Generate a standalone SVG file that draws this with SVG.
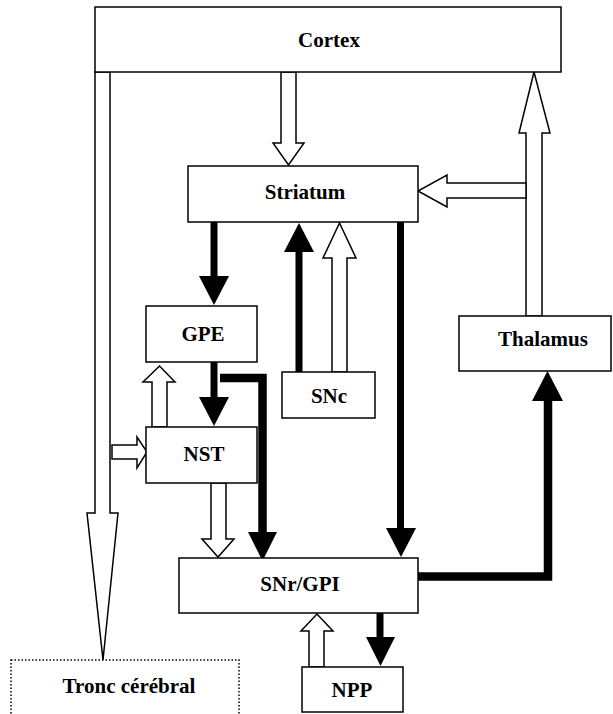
<svg xmlns="http://www.w3.org/2000/svg" width="613" height="714" viewBox="0 0 613 714">
  <style>
    .box { fill: #fff; stroke: #000; stroke-width: 1.5; }
    .dotted { fill: #fff; stroke: #000; stroke-width: 1.5; stroke-dasharray: 1.5 2; }
    .lbl { font-family: "Liberation Serif", "Times New Roman", serif; font-weight: bold; font-size: 21px; fill: #000; text-anchor: middle; }
    .hollow { fill: #fff; stroke: #000; stroke-width: 1.5; stroke-linejoin: miter; }
    .thick { fill: none; stroke: #000; stroke-width: 7; stroke-linejoin: miter; }
    .bent { fill: none; stroke: #000; stroke-width: 8.5; stroke-linejoin: miter; }
    .head { fill: #000; stroke: none; }
  </style>
  <rect width="613" height="714" fill="#fff"/>

  <!-- connectors -->
  <g id="connectors">
    <!-- hollow (excitatory) projections -->
    <polygon class="hollow" points="95,72 110,72 110,513 118,513 103,660 87,513 95,513"/>
    <polygon class="hollow" points="281,72 296,72 296,143 304,143 288.5,165 273,143 281,143"/>
    <polygon class="hollow" points="526,316 526,133 519,133 534,72 550,133 542,133 542,316"/>
    <polygon class="hollow" points="526,183 447,183 447,175 418,191 447,207 447,198 526,198"/>
    <polygon class="hollow" points="332,372 332,258 323,258 339.5,223 356,258 347,258 347,372"/>
    <polygon class="hollow" points="152,427 152,382 143,382 159.5,366 175,382 167,382 167,427"/>
    <polygon class="hollow" points="112,445 137,445 137,437 147,452 137,468 137,459 112,459"/>
    <polygon class="hollow" points="211,483 226,483 226,539 234,539 218,557 202,539 211,539"/>
    <polygon class="hollow" points="309,667 309,631 301,631 317,614 333,631 324,631 324,667"/>

    <!-- filled (inhibitory / dopaminergic) projections -->
    <line class="thick" x1="214" y1="222" x2="214" y2="277"/>
    <polygon class="head" points="199,276 229,276 214,305"/>

    <line class="thick" x1="299" y1="372" x2="299" y2="251"/>
    <polygon class="head" points="284,252 314,252 299,223"/>

    <line class="thick" x1="214" y1="362" x2="214" y2="398"/>
    <polygon class="head" points="199,397 229,397 214,426"/>

    <path class="bent" d="M220,378 H262.5 V533"/>
    <polygon class="head" points="248,532 277,532 262.5,561"/>

    <line class="thick" x1="400.5" y1="222" x2="400.5" y2="529"/>
    <polygon class="head" points="386,528 416,528 401,557"/>

    <path class="bent" d="M418,576.5 H548 V400"/>
    <polygon class="head" points="532,401 563,401 547.5,371"/>

    <line class="thick" x1="380" y1="613" x2="380" y2="638"/>
    <polygon class="head" points="366,637 395,637 380.5,666"/>
  </g>

  <!-- nodes -->
  <g id="cortex">
    <rect class="box" x="95" y="7" width="466" height="65"/>
    <text class="lbl" x="329" y="47">Cortex</text>
  </g>
  <g id="striatum">
    <rect class="box" x="188" y="166" width="230" height="56"/>
    <text class="lbl" x="305" y="199">Striatum</text>
  </g>
  <g id="gpe">
    <rect class="box" x="146" y="306" width="111" height="56"/>
    <text class="lbl" x="203" y="341">GPE</text>
  </g>
  <g id="snc">
    <rect class="box" x="282" y="372" width="93" height="46"/>
    <text class="lbl" x="329" y="403">SNc</text>
  </g>
  <g id="thalamus">
    <rect class="box" x="459" y="316" width="152" height="55"/>
    <text class="lbl" x="543" y="346">Thalamus</text>
  </g>
  <g id="nst">
    <rect class="box" x="146" y="427" width="111" height="56"/>
    <text class="lbl" x="204" y="461">NST</text>
  </g>
  <g id="snr-gpi">
    <rect class="box" x="179" y="558" width="239" height="55"/>
    <text class="lbl" x="300" y="591">SNr/GPI</text>
  </g>
  <g id="npp">
    <rect class="box" x="302" y="667" width="101" height="45"/>
    <text class="lbl" x="352" y="697">NPP</text>
  </g>
  <g id="tronc-cerebral">
    <rect class="dotted" x="11" y="660" width="228" height="70"/>
    <text class="lbl" x="129" y="693">Tronc cérébral</text>
  </g>
</svg>
